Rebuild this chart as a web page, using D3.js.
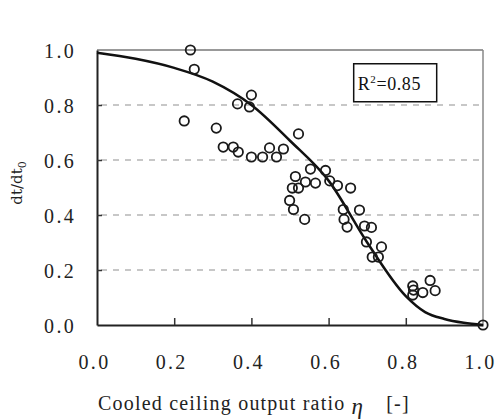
<!DOCTYPE html>
<html>
<head>
<meta charset="utf-8">
<script src="https://cdn.jsdelivr.net/npm/d3@7"></script>
<style>
	body { margin: 0; background: #fff; }
	svg { display: block; }
	.tick-label { font-family: "Liberation Serif", "Times New Roman", serif; font-size: 20px; letter-spacing: 2.3px; fill: #222; }
	.axis-title { font-family: "Liberation Serif", "Times New Roman", serif; font-size: 20px; letter-spacing: 1.2px; fill: #222; }
</style>
</head>
<body>
<svg width="496" height="419"></svg>
<script>
// measured points: cooled ceiling output ratio (eta) vs dt/dt0
const etaValues = [0.242, 0.252, 0.226, 0.309, 0.364, 0.400, 0.395, 0.327, 0.353, 0.366,
	0.400, 0.429, 0.447, 0.465, 0.483, 0.522, 0.553, 0.592, 0.514, 0.540,
	0.566, 0.603, 0.623, 0.657, 0.506, 0.522, 0.499, 0.509, 0.538, 0.638,
	0.640, 0.648, 0.680, 0.693, 0.711, 0.698, 0.737, 0.713, 0.729, 0.818,
	0.820, 0.818, 0.844, 0.863, 0.876, 1.000];
const ratioValues = [1.000, 0.930, 0.742, 0.716, 0.804, 0.836, 0.793, 0.647, 0.647, 0.629,
	0.611, 0.611, 0.644, 0.611, 0.640, 0.695, 0.567, 0.562, 0.540, 0.520,
	0.516, 0.524, 0.507, 0.498, 0.498, 0.498, 0.453, 0.420, 0.384, 0.420,
	0.384, 0.356, 0.418, 0.360, 0.355, 0.302, 0.284, 0.247, 0.247, 0.142,
	0.127, 0.109, 0.118, 0.162, 0.125, 0.000];

// fitted curve
const fitEta = [0, 0.1, 0.2, 0.3, 0.4, 0.5, 0.6, 0.7, 0.8, 0.85, 0.9, 0.95, 1.0];
const fitRatio = [0.99, 0.968, 0.935, 0.885, 0.80, 0.67, 0.525, 0.30, 0.105, 0.047, 0.022, 0.008, 0.0];

const xTicks = [0, 0.2, 0.4, 0.6, 0.8, 1.0];
const yTicks = [0, 0.2, 0.4, 0.6, 0.8, 1.0];
const gridTicks = [0.2, 0.4, 0.6, 0.8];
const r2Label = "0.85";

const svg = d3.select("svg");
const margin = { top: 50, left: 97 };
const width = 386, height = 275;

const x = d3.scaleLinear().domain([0, 1]).range([0, width]);
const y = d3.scaleLinear().domain([0, 1]).range([height, 0]);

const g = svg.append("g")
	.attr("transform", `translate(${margin.left},${margin.top})`);

// dashed grid
g.selectAll(".grid")
	.data(gridTicks)
	.join("line")
	.attr("class", "grid")
	.attr("x1", 4).attr("x2", width)
	.attr("y1", d => y(d)).attr("y2", d => y(d))
	.attr("stroke", "#b5b5b5")
	.attr("stroke-width", 1.5)
	.attr("stroke-dasharray", "6,6");

// frame: top and right lighter
g.append("line")
	.attr("x1", 0).attr("x2", width).attr("y1", 0).attr("y2", 0)
	.attr("stroke", "#777").attr("stroke-width", 1.5);
g.append("line")
	.attr("x1", width).attr("x2", width).attr("y1", 0).attr("y2", height)
	.attr("stroke", "#888").attr("stroke-width", 1.5);

// axes
const xAxis = d3.axisBottom(x).tickValues(xTicks).tickSize(-7).tickSizeOuter(0).tickFormat(d3.format(".1f"));
const yAxis = d3.axisLeft(y).tickValues(yTicks).tickSize(-5).tickSizeOuter(0).tickFormat(d3.format(".1f"));

const gX = g.append("g").attr("transform", `translate(0,${height})`).call(xAxis);
const gY = g.append("g").call(yAxis);

[gX, gY].forEach(a => {
	a.select(".domain").attr("stroke", "#222").attr("stroke-width", 2);
	a.selectAll(".tick line").attr("stroke", "#333").attr("stroke-width", 1.5);
	a.selectAll(".tick text").attr("class", "tick-label").attr("fill", null);
});
gX.selectAll(".tick line").filter(d => d === 0 || d === 1).remove();
gY.selectAll(".tick line").filter(d => d === 0 || d === 1).remove();
gX.selectAll(".tick text").attr("x", -3).attr("y", 30).attr("dy", "0.71em");
gY.selectAll(".tick text").attr("x", -21).attr("dy", "0.36em");

// fitted curve
const line = d3.line()
	.curve(d3.curveMonotoneX)
	.x((d, i) => x(fitEta[i]))
	.y((d, i) => y(fitRatio[i]));

g.append("path")
	.datum(fitEta)
	.attr("fill", "none")
	.attr("stroke", "#111")
	.attr("stroke-width", 2.5)
	.attr("d", line);

// measurements
g.selectAll(".pt")
	.data(d3.range(etaValues.length))
	.join("circle")
	.attr("class", "pt")
	.attr("cx", i => x(etaValues[i]))
	.attr("cy", i => y(ratioValues[i]))
	.attr("r", 4.7)
	.attr("fill", "none")
	.attr("stroke", "#1a1a1a")
	.attr("stroke-width", 1.8);

// R² box
const box = g.append("g").attr("transform", `translate(${x(0.665)},${y(0.95)})`);
box.append("rect")
	.attr("width", 83).attr("height", 38)
	.attr("fill", "#fff")
	.attr("stroke", "#111")
	.attr("stroke-width", 1.5);
const r2 = box.append("text")
	.attr("x", 4).attr("y", 26)
	.attr("font-family", "Liberation Serif, serif")
	.attr("font-size", 18)
	.attr("letter-spacing", 0.6)
	.attr("fill", "#111");
r2.append("tspan").text("R");
r2.append("tspan").attr("dy", -7).attr("font-size", 11).text("2");
r2.append("tspan").attr("dy", 7).text("=" + r2Label);

// axis titles
const xt = svg.append("text")
	.attr("class", "axis-title")
	.attr("x", 98)
	.attr("y", 410);
xt.append("tspan").text("Cooled ceiling output ratio ");
xt.append("tspan").attr("font-style", "italic").attr("font-size", 23).attr("dy", 4).text("η");
xt.append("tspan").attr("dy", -4).attr("dx", 22).text("[-]");

const yt = svg.append("text")
	.attr("transform", "translate(22,183) rotate(-90)")
	.attr("text-anchor", "middle")
	.attr("font-family", "DejaVu Serif, serif")
	.attr("font-size", 15)
	.attr("fill", "#222");
yt.append("tspan").text("dt/dt");
yt.append("tspan").attr("font-size", 11).attr("dy", 4).text("0");
</script>
</body>
</html>
